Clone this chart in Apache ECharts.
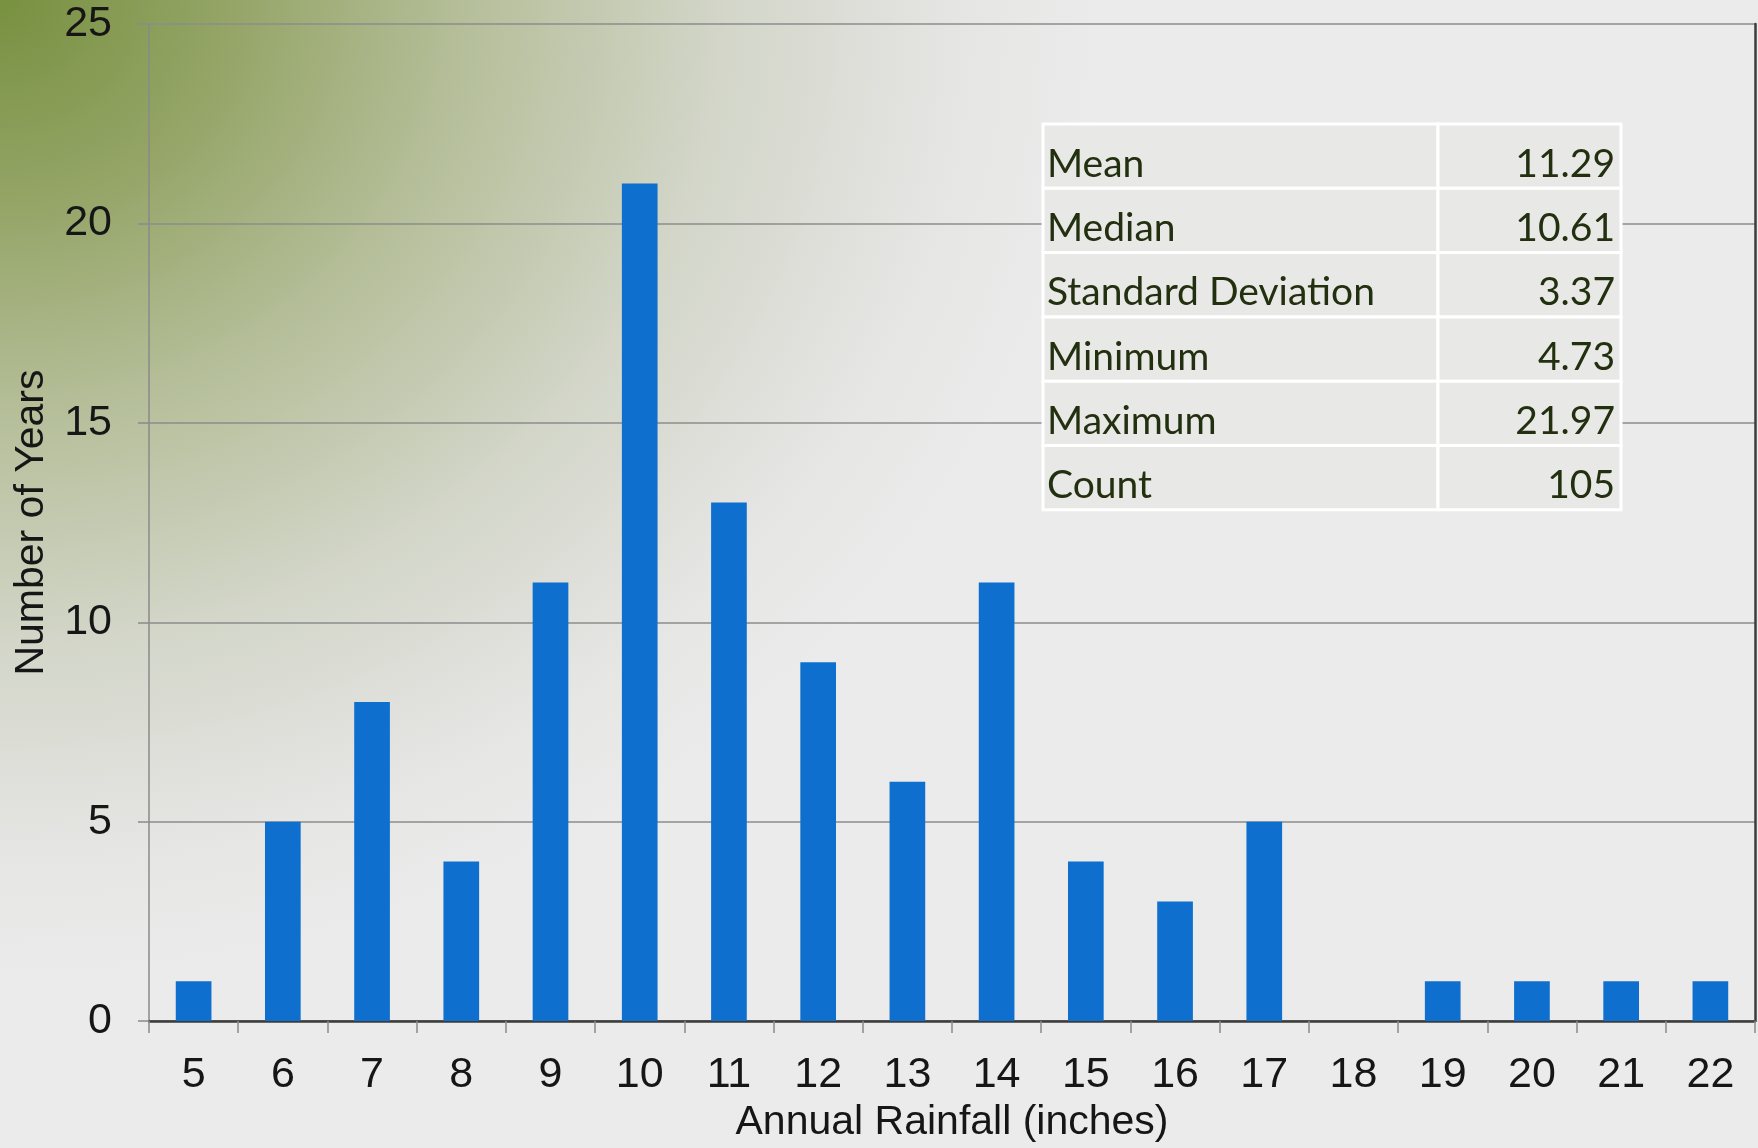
<!DOCTYPE html>
<html>
<head>
<meta charset="utf-8">
<script src="https://cdn.jsdelivr.net/npm/echarts@6/dist/echarts.min.js"></script>
<style>
html,body{margin:0;padding:0;}
#chart{width:1758px;height:1148px;
background: radial-gradient(ellipse 1100px 980px at 0 0, #789040 0%, #93a465 20%, #b5be99 42%, #d3d6c9 66%, #e6e6e5 88%, #ebebeb 100%);}
</style>
</head>
<body>
<div id="chart"></div>
<script>
// ---- data ----
const categories = ['5','6','7','8','9','10','11','12','13','14','15','16','17','18','19','20','21','22'];
const counts = [1,5,8,4,11,21,13,9,6,11,4,3,5,0,1,1,1,1];
const yTicks = {min:0, max:25, interval:5};
const statLabels = ['Mean','Median','Standard Deviation','Minimum','Maximum','Count'];
const statValues = ['11.29','10.61','3.37','4.73','21.97','105'];
const xAxisTitle = 'Annual Rainfall (inches)';
const yAxisTitle = 'Number of Years';

// ---- chart ----
const chart = echarts.init(document.getElementById('chart'), null, {renderer:'canvas'});

// stats table built from arrays
const tbl = {left:1043, top:124, w1:395, w2:183, rowH:64.3};
const tableEls = [];
statLabels.forEach((lab, i) => {
  const y = tbl.top + i*tbl.rowH;
  tableEls.push({type:'rect', z:100, shape:{x:tbl.left, y:y, width:tbl.w1, height:tbl.rowH},
    style:{fill:'#e8e8e6', stroke:'#ffffff', lineWidth:3}});
  tableEls.push({type:'rect', z:100, shape:{x:tbl.left+tbl.w1, y:y, width:tbl.w2, height:tbl.rowH},
    style:{fill:'#e8e8e6', stroke:'#ffffff', lineWidth:3}});
  tableEls.push({type:'text', z:101, x:tbl.left+4, y:y+tbl.rowH/2+8,
    style:{text:lab, fill:'#223010', font:'39px Lato', textAlign:'left', textVerticalAlign:'middle'}});
  tableEls.push({type:'text', z:101, x:tbl.left+tbl.w1+tbl.w2-6, y:y+tbl.rowH/2+8,
    style:{text:statValues[i], fill:'#223010', font:'39px Lato', textAlign:'right', textVerticalAlign:'middle'}});
});

const axisFont = {color:'#161616', fontSize:43, fontFamily:'Liberation Sans, Arial, sans-serif'};
const nameFont = {color:'#161616', fontSize:41, fontFamily:'Liberation Sans, Arial, sans-serif'};

chart.setOption({
  backgroundColor:'transparent',
  animation:false,
  grid:{left:149, right:3, top:24, bottom:111, containLabel:false},
  xAxis:[{
    type:'category', data:categories, position:'bottom',
    axisLine:{show:true, lineStyle:{color:'#8a8a8a', width:1.5}},
    axisTick:{show:true, alignWithLabel:false, length:12, lineStyle:{color:'#8a8a8a', width:1.5}},
    axisLabel:Object.assign({margin:33}, axisFont),
    name:xAxisTitle, nameLocation:'middle', nameGap:78, nameTextStyle:nameFont
  },{
    type:'category', data:categories, position:'top',
    axisLine:{show:true, lineStyle:{color:'#3c3c3c', width:2.5}},
    axisTick:{show:false}, axisLabel:{show:false}
  }],
  yAxis:[{
    type:'value', min:yTicks.min, max:yTicks.max, interval:yTicks.interval,
    axisLine:{show:true, lineStyle:{color:'#8a8a8a', width:1.5}},
    axisTick:{show:true, length:11, lineStyle:{color:'#8a8a8a', width:1.5}},
    splitLine:{show:true, lineStyle:{color:'#8c8c8c', width:1.5}},
    axisLabel:Object.assign({margin:37}, axisFont),
    name:yAxisTitle, nameLocation:'middle', nameGap:97, nameTextStyle:nameFont
  },{
    type:'value', min:yTicks.min, max:yTicks.max, interval:yTicks.interval, position:'right',
    axisLine:{show:true, lineStyle:{color:'#3c3c3c', width:2.5}},
    axisTick:{show:false}, axisLabel:{show:false}, splitLine:{show:false}
  }],
  series:[{
    type:'bar', data:counts, barWidth:'40%', xAxisIndex:0, yAxisIndex:0,
    itemStyle:{color:'#0f6fce'}
  }],
  graphic:[{type:'group', children:tableEls}]
});
</script>
</body>
</html>
